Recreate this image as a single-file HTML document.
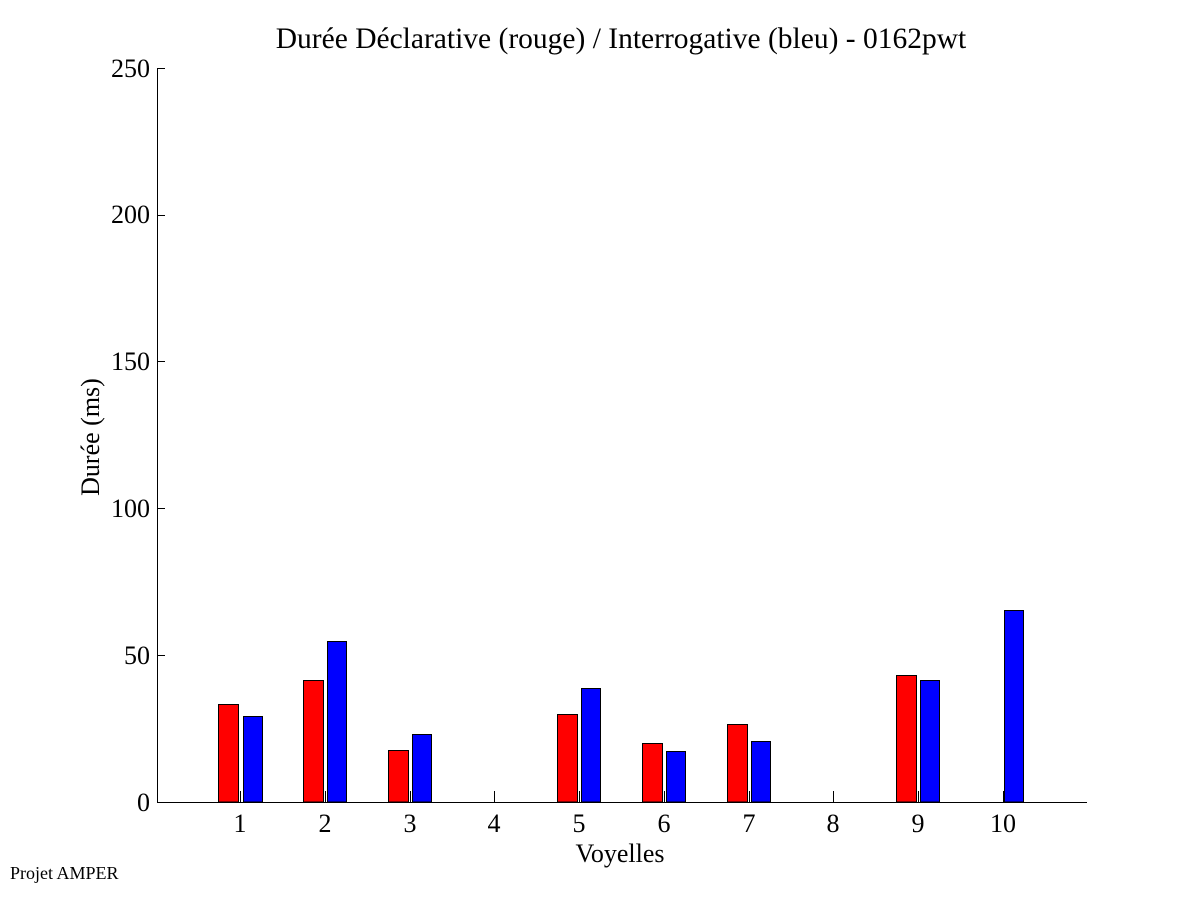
<!DOCTYPE html>
<html><head><meta charset="utf-8"><style>body{margin:0;background:#fff}svg{display:block}</style></head><body>
<svg width="1201" height="901" xmlns="http://www.w3.org/2000/svg" font-family="Liberation Serif, serif">
<rect width="1201" height="901" fill="#fff"/>
<g stroke="#000" stroke-width="1">
<path d="M157.5 68 V802.5 H1087 M157 68.5 H165 M157 215.5 H165 M157 361.5 H165 M157 508.5 H165 M157 655.5 H165 M157 802.5 H165 M240.5 802 V791 M325.5 802 V791 M410.5 802 V791 M494.5 802 V791 M579.5 802 V791 M664.5 802 V791 M749.5 802 V791 M833.5 802 V791 M918.5 802 V791 M1003.5 802 V791" fill="none"/>
<rect x="218.5" y="704.5" width="20" height="97.5" fill="#f00"/>
<rect x="243.5" y="716.5" width="19" height="85.5" fill="#00f"/>
<rect x="303.5" y="680.5" width="20" height="121.5" fill="#f00"/>
<rect x="327.5" y="641.5" width="19" height="160.5" fill="#00f"/>
<rect x="388.5" y="750.5" width="20" height="51.5" fill="#f00"/>
<rect x="412.5" y="734.5" width="19" height="67.5" fill="#00f"/>
<rect x="557.5" y="714.5" width="20" height="87.5" fill="#f00"/>
<rect x="581.5" y="688.5" width="19" height="113.5" fill="#00f"/>
<rect x="642.5" y="743.5" width="20" height="58.5" fill="#f00"/>
<rect x="666.5" y="751.5" width="19" height="50.5" fill="#00f"/>
<rect x="727.5" y="724.5" width="20" height="77.5" fill="#f00"/>
<rect x="751.5" y="741.5" width="19" height="60.5" fill="#00f"/>
<rect x="896.5" y="675.5" width="20" height="126.5" fill="#f00"/>
<rect x="920.5" y="680.5" width="19" height="121.5" fill="#00f"/>
<rect x="1004.5" y="610.5" width="19" height="191.5" fill="#00f"/>
</g>
<g font-size="26" text-anchor="end">
<text x="150" y="77">250</text><text x="150" y="223">200</text><text x="150" y="370">150</text><text x="150" y="517">100</text><text x="150" y="664">50</text><text x="150" y="811">0</text>
</g>
<g font-size="26" text-anchor="middle">
<text x="240" y="832">1</text><text x="325" y="832">2</text><text x="410" y="832">3</text><text x="494" y="832">4</text><text x="579" y="832">5</text><text x="664" y="832">6</text><text x="749" y="832">7</text><text x="833" y="832">8</text><text x="918" y="832">9</text><text x="1003" y="832">10</text>
<text x="620" y="862">Voyelles</text>
<text x="621" y="48" font-size="29.5">Durée Déclarative (rouge) / Interrogative (bleu) - 0162pwt</text>
<text transform="translate(99,437) rotate(-90)">Durée (ms)</text>
</g>
<text x="10" y="879" font-size="18">Projet AMPER</text>
</svg>
</body></html>
